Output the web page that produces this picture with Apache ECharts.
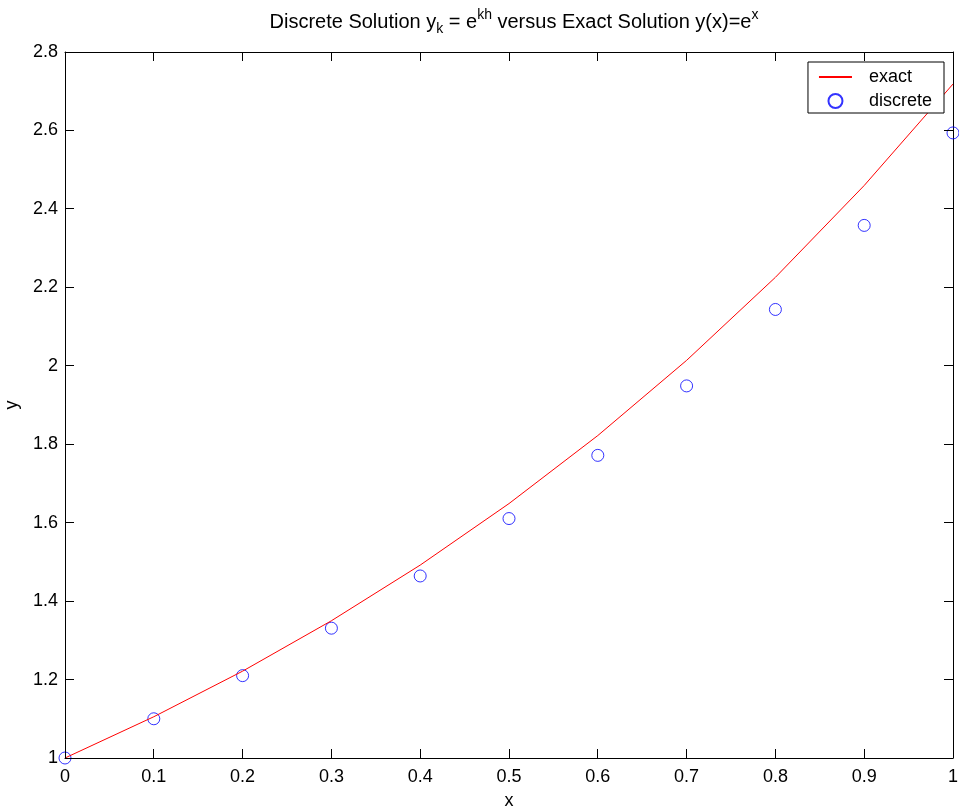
<!DOCTYPE html>
<html><head><meta charset="utf-8">
<script src="https://cdn.jsdelivr.net/npm/echarts@6/dist/echarts.min.js"></script>
<style>html,body{margin:0;padding:0;background:#fff}#c{width:959px;height:811px}</style>
</head><body><div id="c"></div>
<script>
var xValues = [0, 0.1, 0.2, 0.3, 0.4, 0.5, 0.6, 0.7, 0.8, 0.9, 1.0];
var exactValues = [1.0, 1.1052, 1.2214, 1.3499, 1.4918, 1.6487, 1.8221, 2.0138, 2.2255, 2.4596, 2.7183];
var discreteValues = [1.0, 1.1, 1.21, 1.331, 1.4641, 1.6105, 1.7716, 1.9487, 2.1436, 2.3579, 2.5937];
var seriesNames = ['exact', 'discrete'];
var xTicks = [0, 0.1, 0.2, 0.3, 0.4, 0.5, 0.6, 0.7, 0.8, 0.9, 1];
var yTicks = [1, 1.2, 1.4, 1.6, 1.8, 2, 2.2, 2.4, 2.6, 2.8];

var FONT = 'Liberation Sans, Arial, Helvetica, sans-serif';
var chart = echarts.init(document.getElementById('c'), null, {renderer: 'canvas'});
function pairs(xs, ys){ return xs.map(function(x,i){ return [x, ys[i]]; }); }
function axLine(){ return {show: true, onZero: false, lineStyle: {color: '#000', width: 1}}; }
chart.setOption({
  animation: false,
  backgroundColor: '#fff',
  title: {
    text: '{n|Discrete Solution y}{sub|k}{n| = e}{sup|kh}{n| versus Exact Solution y(x)=e}{sup|x}',
    left: 509, textAlign: 'center', top: 3,
    textStyle: {
      fontFamily: FONT, fontWeight: 'normal', color: '#000', fontSize: 20,
      rich: {
        n: {fontFamily: FONT, fontSize: 20, color: '#000', verticalAlign: 'middle', lineHeight: 28},
        sub: {fontFamily: FONT, fontSize: 14, color: '#000', verticalAlign: 'bottom', padding: [13,0,0,0], lineHeight: 28},
        sup: {fontFamily: FONT, fontSize: 14, color: '#000', verticalAlign: 'top', padding: [0,0,13,0], lineHeight: 28}
      }
    }
  },
  grid: {left: 65, top: 52, right: 6, bottom: 53, show: false, containLabel: false, outerBoundsMode: 'none'},
  legend: {
    data: [
      {name: seriesNames[0], icon: 'path://M0,0L1,0L1,0.06L0,0.06Z'},
      {name: seriesNames[1]}
    ],
    orient: 'vertical', right: 15, top: 62, z: 10,
    backgroundColor: '#fff', borderColor: '#000', borderWidth: 1,
    padding: [6, 12, 3, 11], itemGap: 6, itemWidth: 33, itemHeight: 14,
    textStyle: {fontFamily: FONT, fontSize: 18, color: '#000', padding: [0,0,0,12]}
  },
  xAxis: [{
    type: 'value', min: 0, max: 1, interval: 0.1, position: 'bottom',
    name: 'x', nameLocation: 'middle', nameGap: 34,
    nameTextStyle: {fontFamily: FONT, fontSize: 18, color: '#000'},
    axisLine: axLine(),
    axisTick: {show: false}, splitLine: {show: false},
    axisLabel: {fontFamily: FONT, fontSize: 18, color: '#000', margin: 10}
  }, {
    type: 'value', min: 0, max: 1, interval: 0.1, position: 'top',
    axisLine: axLine(),
    axisTick: {show: false}, splitLine: {show: false}, axisLabel: {show: false}
  }],
  yAxis: [{
    type: 'value', min: 1, max: 2.8, interval: 0.2, position: 'left',
    name: 'y', nameLocation: 'middle', nameGap: 44, nameRotate: 90,
    nameTextStyle: {fontFamily: FONT, fontSize: 18, color: '#000'},
    axisLine: axLine(),
    axisTick: {show: false}, splitLine: {show: false},
    axisLabel: {fontFamily: FONT, fontSize: 18, color: '#000', margin: 7}
  }, {
    type: 'value', min: 1, max: 2.8, interval: 0.2, position: 'right',
    axisLine: axLine(),
    axisTick: {show: false}, splitLine: {show: false}, axisLabel: {show: false}
  }],
  series: [{
    name: seriesNames[0], type: 'line', xAxisIndex: 0, yAxisIndex: 0,
    data: pairs(xValues, exactValues), symbol: 'none',
    lineStyle: {color: '#ff0000', width: 1}, itemStyle: {color: '#ff0000'}
  }, {
    name: seriesNames[1], type: 'scatter', xAxisIndex: 0, yAxisIndex: 0,
    data: pairs(xValues, discreteValues), symbol: 'circle', symbolSize: 12,
    itemStyle: {color: 'rgba(255,255,255,0)', borderColor: '#0000ff', borderWidth: 1}
  }]
});

// Inward tick marks on all four sides, positioned through the axes' own scales
var TL = 9;
var xL = chart.convertToPixel({xAxisIndex: 0}, xTicks[0]);
var xR = chart.convertToPixel({xAxisIndex: 0}, xTicks[xTicks.length - 1]);
var yB = chart.convertToPixel({yAxisIndex: 0}, yTicks[0]);
var yT = chart.convertToPixel({yAxisIndex: 0}, yTicks[yTicks.length - 1]);
function crisp(v){ return Math.round(v - 0.5) + 0.5; }
var els = [];
var ts = {stroke: '#000', lineWidth: 1};
xTicks.forEach(function(v){
  var px = crisp(chart.convertToPixel({xAxisIndex: 0}, v));
  els.push({type: 'line', silent: true, z: 5, shape: {x1: px, y1: yB, x2: px, y2: yB - TL}, style: ts});
  els.push({type: 'line', silent: true, z: 5, shape: {x1: px, y1: yT, x2: px, y2: yT + TL}, style: ts});
});
yTicks.forEach(function(v){
  var py = crisp(chart.convertToPixel({yAxisIndex: 0}, v));
  els.push({type: 'line', silent: true, z: 5, shape: {x1: xL, y1: py, x2: xL + TL, y2: py}, style: ts});
  els.push({type: 'line', silent: true, z: 5, shape: {x1: xR, y1: py, x2: xR - TL, y2: py}, style: ts});
});
chart.setOption({graphic: {elements: els}});
</script></body></html>
